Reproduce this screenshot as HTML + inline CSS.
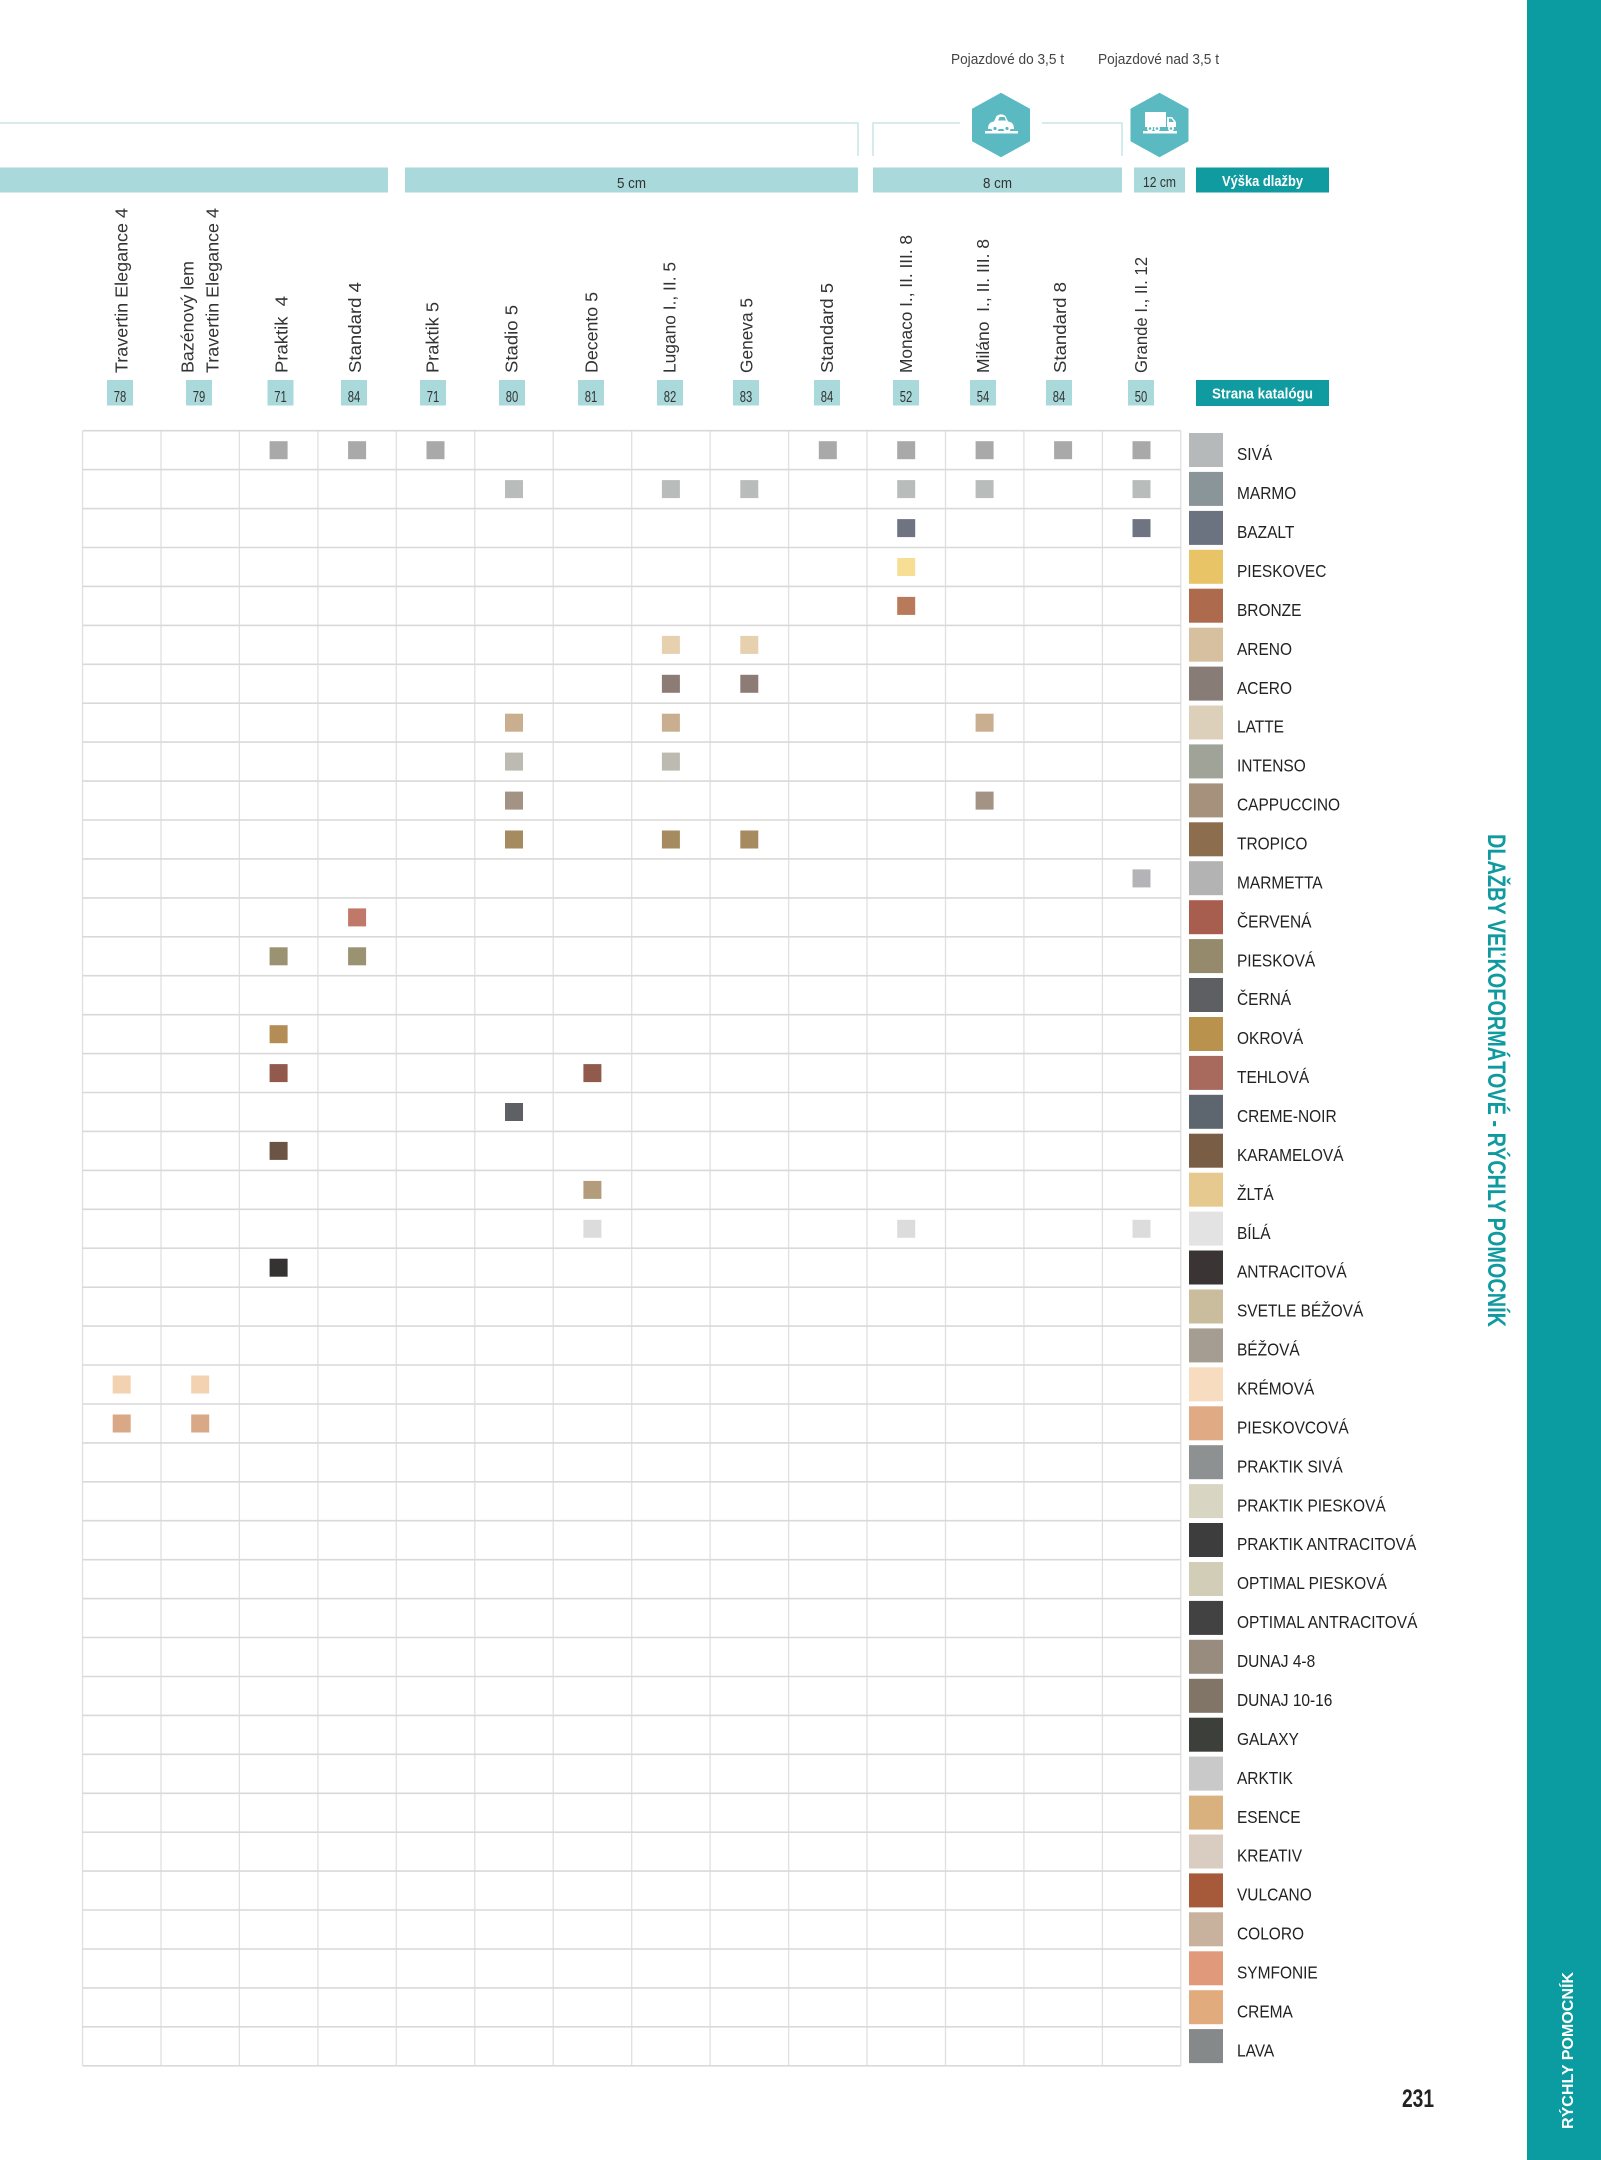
<!DOCTYPE html>
<html>
<head>
<meta charset="utf-8">
<style>
html,body{margin:0;padding:0;background:#fff;}
svg{display:block;}
text{font-family:"Liberation Sans","DejaVu Sans",sans-serif;}
</style>
</head>
<body>
<svg width="1601" height="2160" viewBox="0 0 1601 2160" xmlns="http://www.w3.org/2000/svg">
<rect x="0" y="0" width="1601" height="2160" fill="#ffffff"/>

<!-- sidebar -->
<rect x="1527" y="0" width="74" height="2160" fill="#0a9ca0"/>
<text transform="translate(1573,2129) rotate(-90)" font-size="16" font-weight="bold" fill="#ffffff" textLength="157" lengthAdjust="spacingAndGlyphs">RÝCHLY POMOCNÍK</text>
<text transform="translate(1488,834) rotate(90)" font-size="25" font-weight="bold" fill="#0f9aa0" textLength="493" lengthAdjust="spacingAndGlyphs">DLAŽBY VEĽKOFORMÁTOVÉ - RÝCHLY POMOCNÍK</text>
<text x="1402" y="2107" font-size="25" font-weight="bold" fill="#222" textLength="32" lengthAdjust="spacingAndGlyphs">231</text>

<!-- top labels -->
<text x="951" y="64" font-size="14.5" fill="#444" textLength="113" lengthAdjust="spacingAndGlyphs">Pojazdové do 3,5 t</text>
<text x="1098" y="64" font-size="14.5" fill="#444" textLength="121" lengthAdjust="spacingAndGlyphs">Pojazdové nad 3,5 t</text>

<!-- bracket lines -->
<g fill="none" stroke="#c8e6e6" stroke-width="1.5">
<path d="M0 123H858V156"/>
<path d="M873 156V123H960"/>
<path d="M1042 123H1122V156"/>
</g>

<!-- hexagons -->
<polygon points="1001,92.7 1030,108.8 1030,141.2 1001,157.3 972,141.2 972,108.8" fill="#5bb9c2"/>
<polygon points="1159.5,92.7 1188.5,108.8 1188.5,141.2 1159.5,157.3 1130.5,141.2 1130.5,108.8" fill="#5bb9c2"/>
<!-- car icon -->
<g fill="#ffffff">
<path d="M988 129 Q988 122 994 121.5 L996.5 116 Q1001 112.5 1005.5 116 L1008 121.5 Q1014 122 1014 129 Z"/>
<rect x="985" y="131" width="33" height="2.5"/>
<circle cx="995" cy="128.5" r="3.6"/>
<circle cx="1007" cy="128.5" r="3.6"/>
</g>
<path d="M998 120.5 L999.5 117 L1004.5 117 L1006 120.5 Z" fill="#5bb9c2"/>
<circle cx="995" cy="128.5" r="1.6" fill="#5bb9c2"/>
<circle cx="1007" cy="128.5" r="1.6" fill="#5bb9c2"/>
<!-- truck icon -->
<g fill="#ffffff">
<rect x="1145" y="112" width="21" height="15"/>
<path d="M1167 117 H1172 L1176 122 V127 H1167 Z"/>
<rect x="1143" y="131" width="34" height="2.5"/>
<circle cx="1150" cy="128.5" r="3"/>
<circle cx="1157" cy="128.5" r="3"/>
<circle cx="1171" cy="128.5" r="3"/>
</g>
<path d="M1169 118.5 H1171.5 L1174 122 H1169 Z" fill="#5bb9c2"/>
<circle cx="1150" cy="128.5" r="1.3" fill="#5bb9c2"/>
<circle cx="1157" cy="128.5" r="1.3" fill="#5bb9c2"/>
<circle cx="1171" cy="128.5" r="1.3" fill="#5bb9c2"/>

<!-- height bars -->
<g fill="#a9d9da">
<rect x="0" y="167.5" width="388" height="25"/>
<rect x="405" y="167.5" width="453" height="25"/>
<rect x="873" y="167.5" width="249" height="25"/>
<rect x="1134" y="167.5" width="51" height="25"/>
</g>
<rect x="1196" y="167.5" width="133" height="25" fill="#0f9ba0"/>
<g font-size="15" fill="#333">
<text x="617" y="188" textLength="29" lengthAdjust="spacingAndGlyphs">5 cm</text>
<text x="983" y="188" textLength="29" lengthAdjust="spacingAndGlyphs">8 cm</text>
<text x="1143" y="187" textLength="33" lengthAdjust="spacingAndGlyphs">12 cm</text>
</g>
<text x="1222" y="186" font-size="15" font-weight="bold" fill="#fff" textLength="81" lengthAdjust="spacingAndGlyphs">Výška dlažby</text>

<!-- column headers -->
<g font-size="17.5" fill="#333">
<text transform="translate(127.7,373) rotate(-90)" textLength="165" lengthAdjust="spacingAndGlyphs">Travertin Elegance 4</text>
<text transform="translate(193.7,373) rotate(-90)" textLength="112" lengthAdjust="spacingAndGlyphs">Bazénový lem</text>
<text transform="translate(218.7,373) rotate(-90)" textLength="165" lengthAdjust="spacingAndGlyphs">Travertin Elegance 4</text>
<text transform="translate(287.7,373) rotate(-90)" textLength="77" lengthAdjust="spacingAndGlyphs" xml:space="preserve">Praktik  4</text>
<text transform="translate(361,373) rotate(-90)" textLength="91" lengthAdjust="spacingAndGlyphs">Standard 4</text>
<text transform="translate(438.7,373) rotate(-90)" textLength="71" lengthAdjust="spacingAndGlyphs">Praktik 5</text>
<text transform="translate(517.7,373) rotate(-90)" textLength="68" lengthAdjust="spacingAndGlyphs">Stadio 5</text>
<text transform="translate(597.7,373) rotate(-90)" textLength="81" lengthAdjust="spacingAndGlyphs">Decento 5</text>
<text transform="translate(675.7,373) rotate(-90)" textLength="111" lengthAdjust="spacingAndGlyphs">Lugano I., II. 5</text>
<text transform="translate(752.7,373) rotate(-90)" textLength="75" lengthAdjust="spacingAndGlyphs">Geneva 5</text>
<text transform="translate(833,373) rotate(-90)" textLength="90" lengthAdjust="spacingAndGlyphs">Standard 5</text>
<text transform="translate(912,373) rotate(-90)" textLength="138" lengthAdjust="spacingAndGlyphs">Monaco I., II. III. 8</text>
<text transform="translate(989,373) rotate(-90)" textLength="134" lengthAdjust="spacingAndGlyphs" xml:space="preserve">Miláno  I., II. III. 8</text>
<text transform="translate(1066,373) rotate(-90)" textLength="91" lengthAdjust="spacingAndGlyphs">Standard 8</text>
<text transform="translate(1147,373) rotate(-90)" textLength="116" lengthAdjust="spacingAndGlyphs">Grande I., II. 12</text>
</g>

<!-- page number boxes -->
<g fill="#a9d9da">
<rect x="107" y="380" width="26" height="25.5"/>
<rect x="186" y="380" width="26" height="25.5"/>
<rect x="267.5" y="380" width="26" height="25.5"/>
<rect x="341" y="380" width="26" height="25.5"/>
<rect x="420" y="380" width="26" height="25.5"/>
<rect x="499" y="380" width="26" height="25.5"/>
<rect x="578" y="380" width="26" height="25.5"/>
<rect x="657" y="380" width="26" height="25.5"/>
<rect x="733" y="380" width="26" height="25.5"/>
<rect x="814" y="380" width="26" height="25.5"/>
<rect x="893" y="380" width="26" height="25.5"/>
<rect x="970" y="380" width="26" height="25.5"/>
<rect x="1046" y="380" width="26" height="25.5"/>
<rect x="1128" y="380" width="26" height="25.5"/>
</g>
<g font-size="16" fill="#333">
<text x="113.7" y="402" textLength="12.5" lengthAdjust="spacingAndGlyphs">78</text>
<text x="192.7" y="402" textLength="12.5" lengthAdjust="spacingAndGlyphs">79</text>
<text x="274.2" y="402" textLength="12.5" lengthAdjust="spacingAndGlyphs">71</text>
<text x="347.7" y="402" textLength="12.5" lengthAdjust="spacingAndGlyphs">84</text>
<text x="426.7" y="402" textLength="12.5" lengthAdjust="spacingAndGlyphs">71</text>
<text x="505.7" y="402" textLength="12.5" lengthAdjust="spacingAndGlyphs">80</text>
<text x="584.7" y="402" textLength="12.5" lengthAdjust="spacingAndGlyphs">81</text>
<text x="663.7" y="402" textLength="12.5" lengthAdjust="spacingAndGlyphs">82</text>
<text x="739.7" y="402" textLength="12.5" lengthAdjust="spacingAndGlyphs">83</text>
<text x="820.7" y="402" textLength="12.5" lengthAdjust="spacingAndGlyphs">84</text>
<text x="899.7" y="402" textLength="12.5" lengthAdjust="spacingAndGlyphs">52</text>
<text x="976.7" y="402" textLength="12.5" lengthAdjust="spacingAndGlyphs">54</text>
<text x="1052.7" y="402" textLength="12.5" lengthAdjust="spacingAndGlyphs">84</text>
<text x="1134.7" y="402" textLength="12.5" lengthAdjust="spacingAndGlyphs">50</text>
</g>
<rect x="1196" y="380" width="133" height="26" fill="#0f9ba0"/>
<text x="1212" y="398.5" font-size="15" font-weight="bold" fill="#fff" textLength="101" lengthAdjust="spacingAndGlyphs">Strana katalógu</text>

<!-- grid -->
<g stroke="#e0e0e0" stroke-width="1.3" fill="none">
<path d="M82.5 430.7V2065.8M161 430.7V2065.8M239.4 430.7V2065.8M317.9 430.7V2065.8M396.3 430.7V2065.8M474.8 430.7V2065.8M553.2 430.7V2065.8M631.7 430.7V2065.8M710.1 430.7V2065.8M788.6 430.7V2065.8M867 430.7V2065.8M945.5 430.7V2065.8M1023.9 430.7V2065.8M1102.4 430.7V2065.8M1180.8 430.7V2065.8"/>
</g>
<g stroke="#d9d9d9" stroke-width="1.6" fill="none">
<path d="M82.5 430.7H1180.8M82.5 469.6H1180.8M82.5 508.6H1180.8M82.5 547.5H1180.8M82.5 586.4H1180.8M82.5 625.4H1180.8M82.5 664.3H1180.8M82.5 703.2H1180.8M82.5 742.1H1180.8M82.5 781.1H1180.8M82.5 820H1180.8M82.5 858.9H1180.8M82.5 897.9H1180.8M82.5 936.8H1180.8M82.5 975.7H1180.8M82.5 1014.7H1180.8M82.5 1053.6H1180.8M82.5 1092.5H1180.8M82.5 1131.4H1180.8M82.5 1170.4H1180.8M82.5 1209.3H1180.8M82.5 1248.2H1180.8M82.5 1287.2H1180.8M82.5 1326.1H1180.8M82.5 1365H1180.8M82.5 1404H1180.8M82.5 1442.9H1180.8M82.5 1481.8H1180.8M82.5 1520.7H1180.8M82.5 1559.7H1180.8M82.5 1598.6H1180.8M82.5 1637.5H1180.8M82.5 1676.5H1180.8M82.5 1715.4H1180.8M82.5 1754.3H1180.8M82.5 1793.3H1180.8M82.5 1832.2H1180.8M82.5 1871.1H1180.8M82.5 1910H1180.8M82.5 1949H1180.8M82.5 1987.9H1180.8M82.5 2026.8H1180.8M82.5 2065.8H1180.8"/>
</g>

<!-- small swatches -->
<g>
<!-- r0 SIVA -->
<g fill="#a9a9a9">
<rect x="269.6" y="441.2" width="18" height="18"/><rect x="348.1" y="441.2" width="18" height="18"/><rect x="426.5" y="441.2" width="18" height="18"/><rect x="818.8" y="441.2" width="18" height="18"/><rect x="897.2" y="441.2" width="18" height="18"/><rect x="975.6" y="441.2" width="18" height="18"/><rect x="1054.1" y="441.2" width="18" height="18"/><rect x="1132.5" y="441.2" width="18" height="18"/>
</g>
<!-- r1 MARMO -->
<g fill="#b8bdbb">
<rect x="505" y="480.1" width="18" height="18"/><rect x="661.9" y="480.1" width="18" height="18"/><rect x="740.3" y="480.1" width="18" height="18"/><rect x="897.2" y="480.1" width="18" height="18"/><rect x="975.6" y="480.1" width="18" height="18"/><rect x="1132.5" y="480.1" width="18" height="18"/>
</g>
<!-- r2 BAZALT -->
<g fill="#6f7482">
<rect x="897.2" y="519.1" width="18" height="18"/><rect x="1132.5" y="519.1" width="18" height="18"/>
</g>
<rect x="897.2" y="558" width="18" height="18" fill="#f6df95"/>
<rect x="897.2" y="596.9" width="18" height="18" fill="#b97a5c"/>
<g fill="#e6d0ae"><rect x="661.9" y="635.9" width="18" height="18"/><rect x="740.3" y="635.9" width="18" height="18"/></g>
<g fill="#8d7c75"><rect x="661.9" y="674.8" width="18" height="18"/><rect x="740.3" y="674.8" width="18" height="18"/></g>
<g fill="#c9ae8f"><rect x="505" y="713.7" width="18" height="18"/><rect x="661.9" y="713.7" width="18" height="18"/><rect x="975.6" y="713.7" width="18" height="18"/></g>
<g fill="#bdbab2"><rect x="505" y="752.6" width="18" height="18"/><rect x="661.9" y="752.6" width="18" height="18"/></g>
<g fill="#a39385"><rect x="505" y="791.6" width="18" height="18"/><rect x="975.6" y="791.6" width="18" height="18"/></g>
<g fill="#a58b5f"><rect x="505" y="830.5" width="18" height="18"/><rect x="661.9" y="830.5" width="18" height="18"/><rect x="740.3" y="830.5" width="18" height="18"/></g>
<rect x="1132.5" y="869.4" width="18" height="18" fill="#b4b4b8"/>
<rect x="348.1" y="908.4" width="18" height="18" fill="#c07868"/>
<g fill="#9a9270"><rect x="269.6" y="947.3" width="18" height="18"/><rect x="348.1" y="947.3" width="18" height="18"/></g>
<rect x="269.6" y="1025.2" width="18" height="18" fill="#b38d55"/>
<g fill="#925a4c"><rect x="269.6" y="1064.1" width="18" height="18"/><rect x="583.4" y="1064.1" width="18" height="18"/></g>
<rect x="505" y="1103" width="18" height="18" fill="#5e6066"/>
<rect x="269.6" y="1141.9" width="18" height="18" fill="#6c5444"/>
<rect x="583.4" y="1180.9" width="18" height="18" fill="#b39c7c"/>
<g fill="#dcdcdc"><rect x="583.4" y="1219.8" width="18" height="18"/><rect x="897.2" y="1219.8" width="18" height="18"/><rect x="1132.5" y="1219.8" width="18" height="18"/></g>
<rect x="269.6" y="1258.7" width="18" height="18" fill="#353232"/>
<g fill="#f2d2b0"><rect x="112.7" y="1375.5" width="18" height="18"/><rect x="191.2" y="1375.5" width="18" height="18"/></g>
<g fill="#d9a886"><rect x="112.7" y="1414.5" width="18" height="18"/><rect x="191.2" y="1414.5" width="18" height="18"/></g>
</g>

<!-- big swatches -->
<g>
<rect x="1189" y="433" width="34" height="34" fill="#b5b9b9"/>
<rect x="1189" y="471.9" width="34" height="34" fill="#8a9599"/>
<rect x="1189" y="510.9" width="34" height="34" fill="#6b7380"/>
<rect x="1189" y="549.8" width="34" height="34" fill="#e9c466"/>
<rect x="1189" y="588.7" width="34" height="34" fill="#ad6a4c"/>
<rect x="1189" y="627.7" width="34" height="34" fill="#d7c0a0"/>
<rect x="1189" y="666.6" width="34" height="34" fill="#877c76"/>
<rect x="1189" y="705.5" width="34" height="34" fill="#ddd0bb"/>
<rect x="1189" y="744.4" width="34" height="34" fill="#9fa398"/>
<rect x="1189" y="783.4" width="34" height="34" fill="#a6927c"/>
<rect x="1189" y="822.3" width="34" height="34" fill="#8c6d4e"/>
<rect x="1189" y="861.2" width="34" height="34" fill="#b3b3b3"/>
<rect x="1189" y="900.2" width="34" height="34" fill="#a85e4e"/>
<rect x="1189" y="939.1" width="34" height="34" fill="#958b6c"/>
<rect x="1189" y="978" width="34" height="34" fill="#5d5f62"/>
<rect x="1189" y="1017" width="34" height="34" fill="#b9924e"/>
<rect x="1189" y="1055.9" width="34" height="34" fill="#a86a5c"/>
<rect x="1189" y="1094.8" width="34" height="34" fill="#5d656e"/>
<rect x="1189" y="1133.7" width="34" height="34" fill="#7a5d45"/>
<rect x="1189" y="1172.7" width="34" height="34" fill="#e6c98f"/>
<rect x="1189" y="1211.6" width="34" height="34" fill="#e3e3e3"/>
<rect x="1189" y="1250.5" width="34" height="34" fill="#3b3434"/>
<rect x="1189" y="1289.5" width="34" height="34" fill="#c9bd9e"/>
<rect x="1189" y="1328.4" width="34" height="34" fill="#a59d91"/>
<rect x="1189" y="1367.3" width="34" height="34" fill="#f7dcc0"/>
<rect x="1189" y="1406.3" width="34" height="34" fill="#e0aa84"/>
<rect x="1189" y="1445.2" width="34" height="34" fill="#8d9191"/>
<rect x="1189" y="1484.1" width="34" height="34" fill="#d8d5c2"/>
<rect x="1189" y="1523" width="34" height="34" fill="#3d3d3d"/>
<rect x="1189" y="1562" width="34" height="34" fill="#d1cdb6"/>
<rect x="1189" y="1600.9" width="34" height="34" fill="#424242"/>
<rect x="1189" y="1639.8" width="34" height="34" fill="#978c7d"/>
<rect x="1189" y="1678.8" width="34" height="34" fill="#807566"/>
<rect x="1189" y="1717.7" width="34" height="34" fill="#3d3f3b"/>
<rect x="1189" y="1756.6" width="34" height="34" fill="#c9c9c9"/>
<rect x="1189" y="1795.6" width="34" height="34" fill="#d8b17e"/>
<rect x="1189" y="1834.5" width="34" height="34" fill="#d9cdc1"/>
<rect x="1189" y="1873.4" width="34" height="34" fill="#a65a39"/>
<rect x="1189" y="1912.3" width="34" height="34" fill="#c8b19d"/>
<rect x="1189" y="1951.3" width="34" height="34" fill="#e0997b"/>
<rect x="1189" y="1990.2" width="34" height="34" fill="#e1ab7d"/>
<rect x="1189" y="2029.1" width="34" height="34" fill="#858989"/>
</g>

<!-- labels -->
<g transform="translate(1237,0) scale(0.86,1)" font-size="18" fill="#222">
<text x="0" y="460.2">SIVÁ</text>
<text x="0" y="499.1">MARMO</text>
<text x="0" y="538.1">BAZALT</text>
<text x="0" y="577">PIESKOVEC</text>
<text x="0" y="615.9">BRONZE</text>
<text x="0" y="654.9">ARENO</text>
<text x="0" y="693.8">ACERO</text>
<text x="0" y="732.7">LATTE</text>
<text x="0" y="771.6">INTENSO</text>
<text x="0" y="810.6">CAPPUCCINO</text>
<text x="0" y="849.5">TROPICO</text>
<text x="0" y="888.4">MARMETTA</text>
<text x="0" y="927.4">ČERVENÁ</text>
<text x="0" y="966.3">PIESKOVÁ</text>
<text x="0" y="1005.2">ČERNÁ</text>
<text x="0" y="1044.2">OKROVÁ</text>
<text x="0" y="1083.1">TEHLOVÁ</text>
<text x="0" y="1122">CREME-NOIR</text>
<text x="0" y="1160.9">KARAMELOVÁ</text>
<text x="0" y="1199.9">ŽLTÁ</text>
<text x="0" y="1238.8">BÍLÁ</text>
<text x="0" y="1277.7">ANTRACITOVÁ</text>
<text x="0" y="1316.7">SVETLE BÉŽOVÁ</text>
<text x="0" y="1355.6">BÉŽOVÁ</text>
<text x="0" y="1394.5">KRÉMOVÁ</text>
<text x="0" y="1433.5">PIESKOVCOVÁ</text>
<text x="0" y="1472.4">PRAKTIK SIVÁ</text>
<text x="0" y="1511.3">PRAKTIK PIESKOVÁ</text>
<text x="0" y="1550.2">PRAKTIK ANTRACITOVÁ</text>
<text x="0" y="1589.2">OPTIMAL PIESKOVÁ</text>
<text x="0" y="1628.1">OPTIMAL ANTRACITOVÁ</text>
<text x="0" y="1667">DUNAJ 4-8</text>
<text x="0" y="1706">DUNAJ 10-16</text>
<text x="0" y="1744.9">GALAXY</text>
<text x="0" y="1783.8">ARKTIK</text>
<text x="0" y="1822.8">ESENCE</text>
<text x="0" y="1861.7">KREATIV</text>
<text x="0" y="1900.6">VULCANO</text>
<text x="0" y="1939.5">COLORO</text>
<text x="0" y="1978.5">SYMFONIE</text>
<text x="0" y="2017.4">CREMA</text>
<text x="0" y="2056.3">LAVA</text>
</g>
</svg>
</body>
</html>
